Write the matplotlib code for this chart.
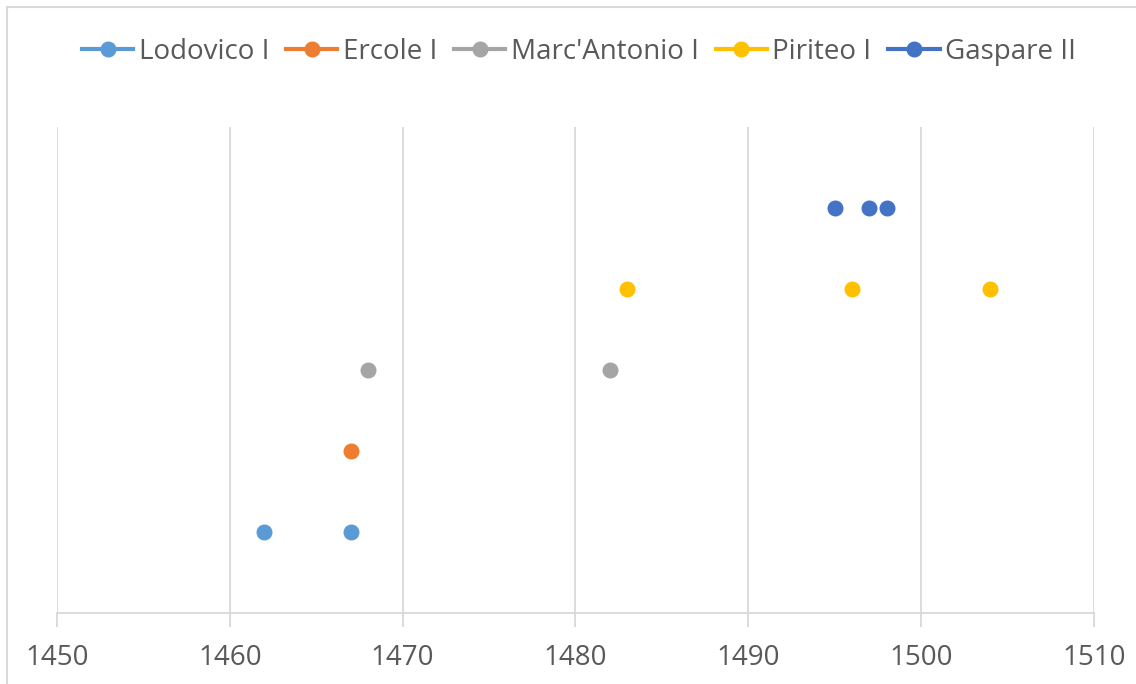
import matplotlib.pyplot as plt
from matplotlib.patches import Rectangle

plt.rcParams['font.family'] = ['Open Sans', 'DejaVu Sans']

names = ["Lodovico I", "Ercole I", "Marc'Antonio I", "Piriteo I", "Gaspare II"]
colors = ["#5B9BD5", "#ED7D31", "#A5A5A5", "#FFC000", "#4472C4"]
levels = [1, 2, 3, 4, 5]
years = [
    [1462, 1467],
    [1467],
    [1468, 1482],
    [1483, 1496, 1504],
    [1495, 1497, 1498],
]
xticks = [1450, 1460, 1470, 1480, 1490, 1500, 1510]

W, H = 1136, 684
fig = plt.figure(figsize=(W / 100, H / 100), dpi=100)
ax = fig.add_axes([57 / W, 1 - 613 / H, (1094 - 57) / W, (613 - 127) / H])

for name, col, lev, ys in zip(names, colors, levels, years):
    ax.plot(ys, [lev] * len(ys), linestyle='none', marker='o', markersize=10.5,
            color=col, label=name, zorder=3)

ax.set_xlim(1450, 1510)
ax.set_ylim(0, 6)
ax.set_xticks(xticks)
ax.set_yticks([])
ax.grid(axis='x', color='#D9D9D9', linewidth=1.3)
for s in ['top', 'right', 'left']:
    ax.spines[s].set_visible(False)
ax.spines['bottom'].set_color('#D9D9D9')
ax.spines['bottom'].set_linewidth(1.3)
ax.tick_params(axis='x', colors='#D9D9D9', length=10, width=1.3, pad=12,
               labelcolor='#595959', labelsize=20)

# legend handles with lines like Excel
handles = [plt.Line2D([], [], color=c, marker='o', markersize=10.5, linewidth=3)
           for c in colors]
fig.legend(handles, names, loc='center', bbox_to_anchor=(579 / W, 1 - 52 / H),
           ncol=5, frameon=False, fontsize=20, handlelength=1.85,
           handletextpad=0.2, columnspacing=0.6, labelcolor='#595959')

# chart border (cropped at right and bottom)
fig.patches.append(Rectangle((7 / W, -0.05), 1.2, 1 - 7 / H + 0.05,
                             transform=fig.transFigure, fill=False,
                             edgecolor='#D9D9D9', linewidth=1.5))

fig.savefig('out.png', dpi=100)
